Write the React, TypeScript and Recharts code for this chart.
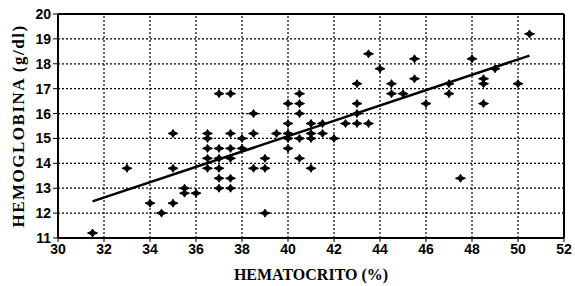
import React from "react";
import {
  ScatterChart, Scatter, XAxis, YAxis, ReferenceLine,
} from "recharts";

// hematocrito (%) of each sample
const hematocrito = [
  31.5, 33, 34, 34.5, 35, 35, 35, 35.5, 35.5, 36,
  36.5, 36.5, 36.5, 36.5, 36.5, 37, 37, 37, 37, 37,
  37.5, 37.5, 37.5, 37.5, 37.5, 37.5, 38, 38, 38.5, 38.5,
  38.5, 39, 39, 39, 39.5, 40, 40, 40, 40, 40,
  40.5, 40.5, 40.5, 40.5, 40.5, 41, 41, 41, 41, 41.5,
  41.5, 42, 42.5, 43, 43, 43, 43, 43.5, 43.5, 44,
  44.5, 44.5, 45, 45.5, 45.5, 46, 47, 47, 47.5, 48,
  48.5, 48.5, 48.5, 49, 50, 50.5, 37,
];

// hemoglobina (g/dl) of each sample
const hemoglobina = [
  11.2, 13.8, 12.4, 12.0, 12.4, 13.8, 15.2, 13.0, 12.8, 12.8,
  15.2, 15.0, 14.6, 14.2, 13.8, 14.6, 14.2, 13.4, 13.0, 16.8,
  16.8, 15.2, 14.6, 14.2, 13.4, 13.0, 15.0, 14.6, 16.0, 15.2,
  13.8, 14.2, 13.8, 12.0, 15.2, 16.4, 15.6, 15.2, 15.0, 14.6,
  16.8, 16.4, 16.0, 15.0, 14.2, 15.6, 15.2, 15.0, 13.8, 15.6,
  15.2, 15.0, 15.6, 15.6, 16.0, 16.4, 17.2, 15.6, 18.4, 17.8,
  17.2, 16.8, 16.8, 18.2, 17.4, 16.4, 17.2, 16.8, 13.4, 18.2,
  17.4, 17.2, 16.4, 17.8, 17.2, 19.2, 13.8,
];

// regression line end points
const fitX = [31.5, 50.5];
const fitY = [12.47, 18.33];

const xTicks = [30, 32, 34, 36, 38, 40, 42, 44, 46, 48, 50, 52];
const yTicks = [11, 12, 13, 14, 15, 16, 17, 18, 19, 20];

const samples = hematocrito.map((x, i) => ({ x, y: hemoglobina[i] }));
const fitLine = fitX.map((x, i) => ({ x, y: fitY[i] }));

const tickFont = "'Liberation Sans', Arial, sans-serif";

const titleStyle = {
  fill: "#000",
  fontFamily: "'Liberation Serif', 'Times New Roman', serif",
  fontWeight: 700,
  fontSize: 16,
};

function XTick(props: any) {
  const { x, y, payload } = props;
  return (
    <text x={x} y={y + 10} textAnchor="middle" fill="#000"
      fontFamily={tickFont} fontWeight={700} fontSize={14}>
      {payload.value}
    </text>
  );
}

function YTick(props: any) {
  const { x, y, payload } = props;
  return (
    <text x={x} y={y + 5} textAnchor="end" fill="#000"
      fontFamily={tickFont} fontWeight={700} fontSize={14}>
      {payload.value}
    </text>
  );
}

// plus-like diamond marker
function Marker(props: any) {
  const { cx, cy } = props;
  if (cx == null || cy == null) return <g />;
  const d = `M${cx - 5},${cy} L${cx - 1.5},${cy - 1.5} L${cx},${cy - 4} L${cx + 1.5},${cy - 1.5} L${cx + 5},${cy} L${cx + 1.5},${cy + 1.5} L${cx},${cy + 4} L${cx - 1.5},${cy + 1.5} Z`;
  return <path d={d} fill="#000" stroke="#000" strokeWidth={1} />;
}

export default function App() {
  return (
    <div style={{ position: "absolute", left: 0, top: 0, background: "#fff" }}>
      <ScatterChart
        width={575}
        height={286}
        margin={{ top: 14, right: 11, bottom: 0, left: 0 }}
      >
        {xTicks.slice(1, -1).map((t) => (
          <ReferenceLine key={"gx" + t} x={t} stroke="#000" strokeDasharray="2 2" strokeWidth={1.2} />
        ))}
        {yTicks.slice(1, -1).map((t) => (
          <ReferenceLine key={"gy" + t} y={t} stroke="#000" strokeDasharray="2 2" strokeWidth={1.2} />
        ))}
        <XAxis
          type="number"
          dataKey="x"
          domain={[30, 52]}
          ticks={xTicks}
          height={48}
          tick={<XTick />}
          tickSize={4}
          axisLine={{ stroke: "#000", strokeWidth: 2 }}
          tickLine={{ stroke: "#000" }}
          label={{ value: "HEMATOCRITO (%)", position: "insideBottom", offset: 6, style: titleStyle }}
        />
        <YAxis
          type="number"
          dataKey="y"
          domain={[11, 20]}
          ticks={yTicks}
          width={58}
          tick={<YTick />}
          tickSize={5}
          axisLine={{ stroke: "#000", strokeWidth: 2 }}
          tickLine={{ stroke: "#000" }}
          label={{
            value: "HEMOGLOBINA (g/dl)",
            angle: -90,
            position: "insideLeft",
            offset: 18,
            style: { ...titleStyle, fontSize: 17, letterSpacing: 1.5, textAnchor: "middle" },
          }}
        />
        <ReferenceLine y={20} stroke="#000" strokeWidth={2} />
        <ReferenceLine x={52} stroke="#000" strokeWidth={2} />
        <Scatter data={samples} shape={<Marker />} isAnimationActive={false} />
        <Scatter
          data={fitLine}
          line={{ stroke: "#000", strokeWidth: 2.5 }}
          shape={() => <g />}
          isAnimationActive={false}
        />
      </ScatterChart>
    </div>
  );
}
